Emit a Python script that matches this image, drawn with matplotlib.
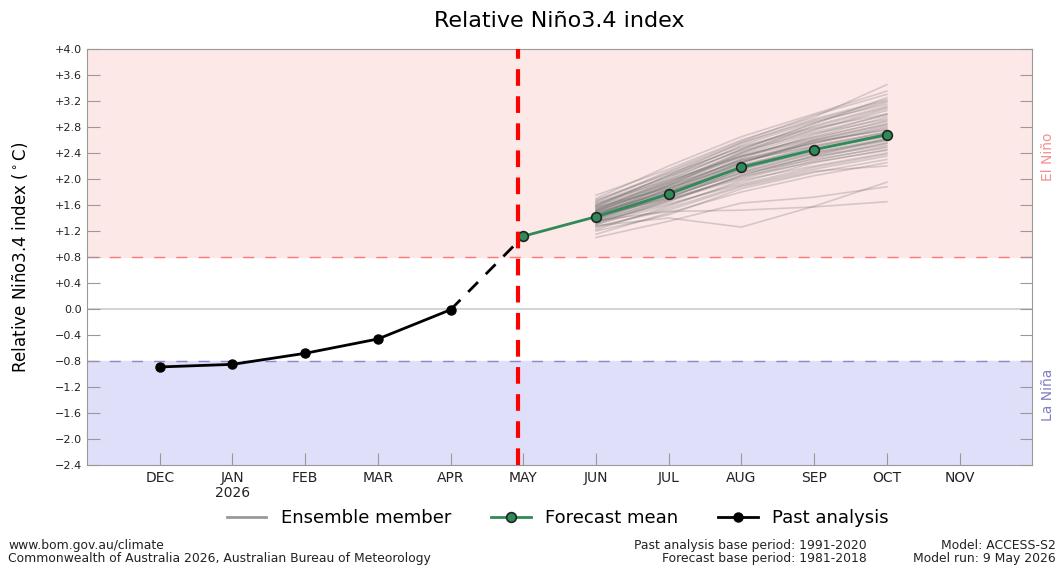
import matplotlib
matplotlib.use('Agg')
import matplotlib.pyplot as plt
from matplotlib.lines import Line2D

months = ['DEC', 'JAN\n2026', 'FEB', 'MAR', 'APR', 'MAY', 'JUN', 'JUL', 'AUG', 'SEP', 'OCT', 'NOV']

past_x = [0, 1, 2, 3, 4]
past_y = [-0.89, -0.85, -0.68, -0.46, -0.01]

mean_x = [5, 6, 7, 8, 9, 10]
mean_y = [1.12, 1.42, 1.77, 2.18, 2.45, 2.68]

ens_x = [6, 7, 8, 9, 10]
# ensemble members: JUN, JUL, AUG, SEP, OCT
ensemble = [
    [1.45, 1.80, 2.20, 2.50, 2.70],
    [1.50, 1.90, 2.35, 2.65, 2.95],
    [1.38, 1.72, 2.10, 2.40, 2.60],
    [1.60, 2.05, 2.50, 2.80, 3.10],
    [1.30, 1.60, 1.95, 2.25, 2.45],
    [1.42, 1.85, 2.28, 2.55, 2.80],
    [1.55, 1.95, 2.40, 2.75, 3.05],
    [1.25, 1.55, 1.90, 2.15, 2.35],
    [1.70, 2.20, 2.65, 3.00, 3.35],
    [1.35, 1.70, 2.15, 2.45, 2.65],
    [1.48, 1.82, 2.25, 2.60, 2.85],
    [1.20, 1.45, 1.85, 2.10, 2.30],
    [1.65, 2.10, 2.55, 2.90, 3.20],
    [1.40, 1.78, 2.18, 2.42, 2.62],
    [1.52, 1.88, 2.30, 2.58, 2.75],
    [1.33, 1.65, 2.05, 2.35, 2.55],
    [1.58, 2.00, 2.45, 2.85, 3.25],
    [1.44, 1.76, 2.12, 2.38, 2.58],
    [1.10, 1.35, 1.63, 1.72, 1.88],
    [1.28, 1.40, 1.26, 1.58, 1.95],
    [1.36, 1.50, 1.52, 1.57, 1.65],
    [1.62, 1.98, 2.35, 2.62, 2.90],
    [1.46, 1.84, 2.32, 2.68, 3.00],
    [1.39, 1.74, 2.08, 2.30, 2.48],
    [1.75, 2.15, 2.60, 2.95, 3.45],
    [1.50, 1.92, 2.38, 2.70, 2.92],
    [1.32, 1.68, 2.00, 2.28, 2.50],
    [1.56, 1.86, 2.22, 2.48, 2.68],
    [1.22, 1.58, 1.98, 2.20, 2.40],
    [1.47, 1.80, 2.26, 2.52, 2.72],
    [1.41, 1.79, 2.20, 2.46, 2.66],
    [1.68, 2.08, 2.48, 2.78, 3.00],
    [1.34, 1.62, 1.92, 2.18, 2.38],
    [1.53, 1.94, 2.42, 2.72, 2.98],
    [1.43, 1.70, 2.02, 2.32, 2.55],
    [1.37, 1.76, 2.24, 2.58, 2.82],
    [1.60, 2.02, 2.52, 2.88, 3.15],
    [1.27, 1.52, 1.88, 2.12, 2.20],
    [1.49, 1.87, 2.30, 2.55, 2.78],
    [1.45, 1.82, 2.16, 2.40, 2.60],
    [1.15, 1.48, 1.80, 2.05, 2.25],
    [1.57, 1.96, 2.36, 2.64, 2.88],
    [1.40, 1.75, 2.14, 2.44, 2.70],
    [1.51, 1.90, 2.28, 2.50, 2.72],
    [1.30, 1.66, 2.06, 2.36, 2.62],
    [1.63, 2.04, 2.44, 2.76, 3.08],
    [1.42, 1.72, 2.10, 2.34, 2.52],
    [1.54, 1.93, 2.34, 2.60, 2.84],
    [1.36, 1.68, 2.04, 2.26, 2.44],
    [1.48, 1.84, 2.26, 2.56, 2.76],
    [1.66, 2.12, 2.58, 2.98, 3.30],
    [1.58, 2.06, 2.56, 2.92, 3.22],
    [1.44, 1.90, 2.40, 2.82, 3.12],
    [1.52, 1.98, 2.46, 2.86, 3.18],
]

yticks = [-2.4, -2.0, -1.6, -1.2, -0.8, -0.4, 0.0, 0.4, 0.8, 1.2, 1.6, 2.0, 2.4, 2.8, 3.2, 3.6, 4.0]
ytick_labels = ['\u22122.4', '\u22122.0', '\u22121.6', '\u22121.2', '\u22120.8', '\u22120.4', '0.0',
                '+0.4', '+0.8', '+1.2', '+1.6', '+2.0', '+2.4', '+2.8', '+3.2', '+3.6', '+4.0']

fig = plt.figure(figsize=(10.62, 5.68), dpi=100)
ax = fig.add_axes([0.082, 0.181, 0.890, 0.733])
ax.set_xlim(-1, 12)
ax.set_ylim(-2.4, 4.0)

# background regions
ax.axhspan(0.8, 4.0, color='#fde8e8', zorder=0)
ax.axhspan(-2.4, -0.8, color='#dfdffa', zorder=0)
ax.axhline(0.8, color='#ff7777', ls=(0, (8, 8)), lw=1, zorder=1)
ax.axhline(-0.8, color='#8888cc', ls=(0, (8, 8)), lw=1, zorder=1)
ax.axhline(0.0, color='#cccccc', lw=1.2, zorder=1)

for m in ensemble:
    ax.plot(ens_x, m, color='#666666', alpha=0.26, lw=1.2, zorder=2)

ax.plot([past_x[-1], mean_x[0]], [past_y[-1], mean_y[0]], color='black', lw=2,
        ls=(0, (5, 4)), zorder=3)
ax.plot(past_x, past_y, color='black', lw=2, marker='o', ms=6.5, zorder=4)
ax.plot(mean_x, mean_y, color='#2e8b57', lw=2, marker='o', ms=7, mfc='#2e8b57',
        mec='#222222', mew=1.2, zorder=5)

ax.axvline(4.92, color='red', lw=3, ls=(0, (4, 2.5)), zorder=6)

ax.set_xticks(range(12))
ax.set_xticklabels(months, fontsize=10, color='#222222', linespacing=1.1)
ax.set_yticks(yticks)
ax.set_yticklabels(ytick_labels, fontsize=8, color='#222222')
ax.tick_params(axis='both', direction='in', length=9, color='#999999', right=True, top=False)
ax.tick_params(axis='x', pad=4)
for s in ax.spines.values():
    s.set_color('#999999')

ax.set_ylabel('Relative Niño3.4 index ($^\\circ$C)', fontsize=12, labelpad=18)
ax.set_title('Relative Niño3.4 index', fontsize=16, pad=16)

ax.text(1.017, 0.74, 'El Niño', transform=ax.transAxes, rotation=90, color='#f49090',
        fontsize=10, ha='center', va='center')
ax.text(1.017, 0.17, 'La Niña', transform=ax.transAxes, rotation=90, color='#7f7fbf',
        fontsize=10, ha='center', va='center')

handles = [
    Line2D([], [], color='#999999', lw=2),
    Line2D([], [], color='#2e8b57', lw=2, marker='o', ms=7, mfc='#2e8b57', mec='#222222', mew=1.2),
    Line2D([], [], color='black', lw=2, marker='o', ms=6.5),
]
labels = ['Ensemble member', 'Forecast mean', 'Past analysis']
fig.legend(handles, labels, loc='center', ncol=3,
           bbox_to_anchor=(0.525, 0.088), frameon=False, fontsize=13, handlelength=2.2,
           columnspacing=2.2)

fig.text(0.008, 0.028, 'www.bom.gov.au/climate\nCommonwealth of Australia 2026, Australian Bureau of Meteorology',
         fontsize=8.9, ha='left', va='center', color='#222222', linespacing=0.95)
fig.text(0.816, 0.028, 'Past analysis base period: 1991-2020\nForecast base period: 1981-2018',
         fontsize=8.9, ha='right', va='center', color='#222222', linespacing=0.95, multialignment='right')
fig.text(0.994, 0.028, 'Model: ACCESS-S2\nModel run: 9 May 2026',
         fontsize=8.9, ha='right', va='center', color='#222222', linespacing=0.95, multialignment='right')

fig.savefig('out.png', dpi=100)
